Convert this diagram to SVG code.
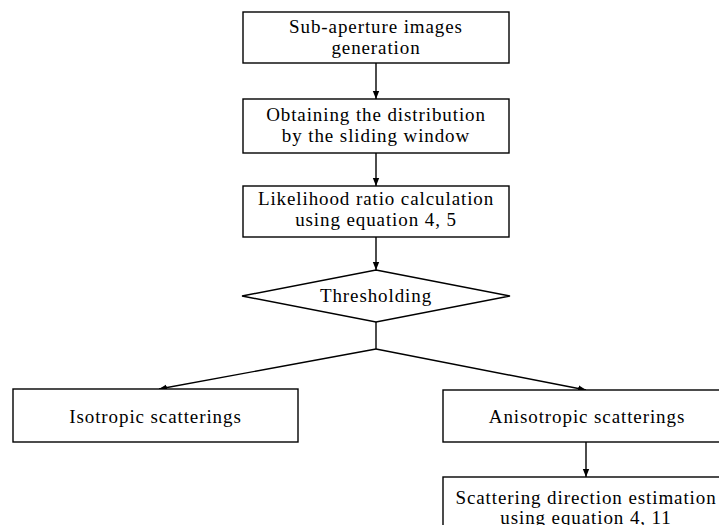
<svg xmlns="http://www.w3.org/2000/svg" width="719" height="525" viewBox="0 0 719 525">
<style>
.box{fill:#fff;stroke:#000;stroke-width:1.4}
.t{font-family:"Liberation Serif","Times New Roman",serif;font-size:19px;letter-spacing:0.9px;fill:#000;text-anchor:middle}
.c{stroke:#000;stroke-width:1.4;fill:none}
</style>
<defs>
<marker id="ah" viewBox="0 0 10 10" refX="10" refY="5" markerWidth="8" markerHeight="8" markerUnits="userSpaceOnUse" orient="auto">
<path d="M0,1 L10,5 L0,9 z" fill="#000"/>
</marker>
</defs>
<rect width="719" height="525" fill="#fff"/>
<g id="connectors">
<line class="c" x1="376" y1="63" x2="376" y2="99" marker-end="url(#ah)"/>
<line class="c" x1="376" y1="153" x2="376" y2="186" marker-end="url(#ah)"/>
<line class="c" x1="376" y1="237" x2="376" y2="270" marker-end="url(#ah)"/>
<polyline class="c" points="376,322 376,349"/>
<line class="c" x1="376" y1="349" x2="159" y2="389" marker-end="url(#ah)"/>
<line class="c" x1="376" y1="349" x2="586" y2="390" marker-end="url(#ah)"/>
<line class="c" x1="586" y1="442" x2="586" y2="477" marker-end="url(#ah)"/>
</g>
<g id="n1">
<rect class="box" x="243" y="12" width="266" height="51"/>
<text class="t" x="376" y="33">Sub-aperture images</text>
<text class="t" x="376" y="54">generation</text>
</g>
<g id="n2">
<rect class="box" x="243" y="99" width="266" height="54"/>
<text class="t" x="376" y="121">Obtaining the distribution</text>
<text class="t" x="376" y="142">by the sliding window</text>
</g>
<g id="n3">
<rect class="box" x="243" y="186" width="266" height="51"/>
<text class="t" x="376" y="205">Likelihood ratio calculation</text>
<text class="t" x="376" y="226">using equation 4, 5</text>
</g>
<g id="n4">
<polygon class="box" points="376,270 510,296 376,322 242,296"/>
<text class="t" x="376" y="302">Thresholding</text>
</g>
<g id="n5">
<rect class="box" x="13" y="389" width="285" height="53"/>
<text class="t" x="155.5" y="423">Isotropic scatterings</text>
</g>
<g id="n6">
<rect class="box" x="443" y="390" width="286" height="52"/>
<text class="t" x="587" y="423">Anisotropic scatterings</text>
</g>
<g id="n7">
<rect class="box" x="443" y="477" width="286" height="60"/>
<text class="t" x="586" y="504">Scattering direction estimation</text>
<text class="t" x="586" y="524">using equation 4, 11</text>
</g>
</svg>
